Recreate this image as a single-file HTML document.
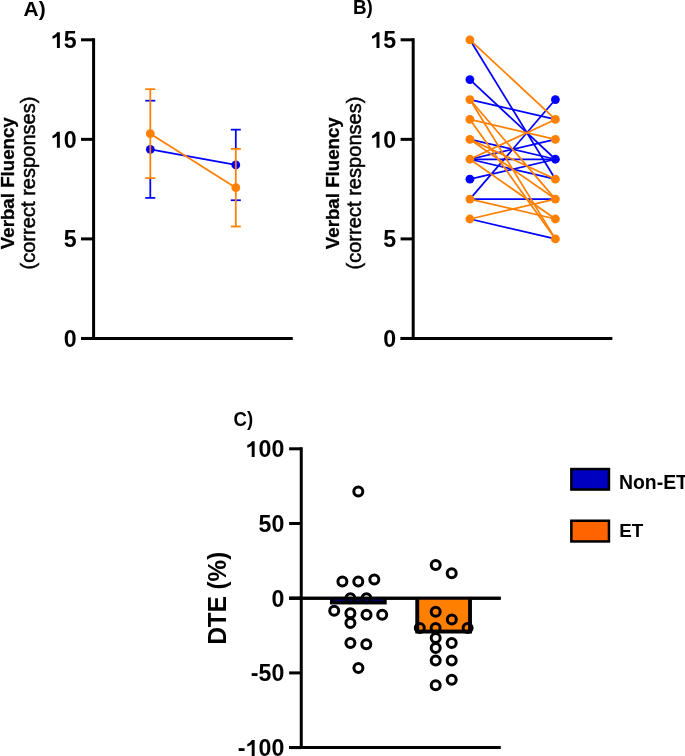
<!DOCTYPE html>
<html><head><meta charset="utf-8"><style>
html,body{margin:0;padding:0;background:#fff;}
svg{display:block;will-change:transform;font-family:"Liberation Sans",sans-serif;}
</style></head><body>
<svg width="685" height="756" viewBox="0 0 685 756">
<line x1="93.60" y1="38.30" x2="93.60" y2="339.95" stroke="#000" stroke-width="3" stroke-linecap="butt"/>
<line x1="81.00" y1="338.45" x2="292.80" y2="338.45" stroke="#000" stroke-width="3" stroke-linecap="butt"/>
<line x1="81.00" y1="39.80" x2="93.60" y2="39.80" stroke="#000" stroke-width="3" stroke-linecap="butt"/>
<path d="M800 0L540 0L540 1030Q380 890 150 820L150 1060Q280 1110 400 1210Q510 1310 560 1409L800 1409Z" transform="translate(50.79,48.10) scale(0.01133,-0.01133)" fill="#000"/>
<text x="63.70" y="48.10" font-size="23.2" font-weight="bold">5</text>
<line x1="81.00" y1="139.35" x2="93.60" y2="139.35" stroke="#000" stroke-width="3" stroke-linecap="butt"/>
<path d="M800 0L540 0L540 1030Q380 890 150 820L150 1060Q280 1110 400 1210Q510 1310 560 1409L800 1409Z" transform="translate(50.79,147.65) scale(0.01133,-0.01133)" fill="#000"/>
<text x="63.70" y="147.65" font-size="23.2" font-weight="bold">0</text>
<line x1="81.00" y1="238.90" x2="93.60" y2="238.90" stroke="#000" stroke-width="3" stroke-linecap="butt"/>
<text x="63.70" y="247.20" font-size="23.2" font-weight="bold">5</text>
<line x1="81.00" y1="338.45" x2="93.60" y2="338.45" stroke="#000" stroke-width="3" stroke-linecap="butt"/>
<text x="63.70" y="346.75" font-size="23.2" font-weight="bold">0</text>
<line x1="150.30" y1="149.30" x2="235.80" y2="164.95" stroke="#0000ff" stroke-width="1.75" stroke-linecap="butt"/>
<line x1="150.30" y1="197.92" x2="150.30" y2="178.13" stroke="#0000ff" stroke-width="1.75" stroke-linecap="butt"/>
<line x1="145.30" y1="197.92" x2="155.30" y2="197.92" stroke="#0000ff" stroke-width="1.75" stroke-linecap="butt"/>
<line x1="145.30" y1="100.69" x2="155.30" y2="100.69" stroke="#0000ff" stroke-width="1.75" stroke-linecap="butt"/>
<circle cx="150.30" cy="149.30" r="4.4" fill="#0000ff" stroke="none" stroke-width="0"/>
<line x1="235.80" y1="148.88" x2="235.80" y2="129.65" stroke="#0000ff" stroke-width="1.75" stroke-linecap="butt"/>
<line x1="230.80" y1="200.25" x2="240.80" y2="200.25" stroke="#0000ff" stroke-width="1.75" stroke-linecap="butt"/>
<line x1="230.80" y1="129.65" x2="240.80" y2="129.65" stroke="#0000ff" stroke-width="1.75" stroke-linecap="butt"/>
<circle cx="235.80" cy="164.95" r="4.4" fill="#0000ff" stroke="none" stroke-width="0"/>
<line x1="150.30" y1="133.66" x2="235.80" y2="187.70" stroke="#ff8000" stroke-width="1.75" stroke-linecap="butt"/>
<line x1="150.30" y1="178.13" x2="150.30" y2="89.19" stroke="#ff8000" stroke-width="1.75" stroke-linecap="butt"/>
<line x1="145.30" y1="178.13" x2="155.30" y2="178.13" stroke="#ff8000" stroke-width="1.75" stroke-linecap="butt"/>
<line x1="145.30" y1="89.19" x2="155.30" y2="89.19" stroke="#ff8000" stroke-width="1.75" stroke-linecap="butt"/>
<circle cx="150.30" cy="133.66" r="4.4" fill="#ff8000" stroke="none" stroke-width="0"/>
<line x1="235.80" y1="226.53" x2="235.80" y2="148.88" stroke="#ff8000" stroke-width="1.75" stroke-linecap="butt"/>
<line x1="230.80" y1="226.53" x2="240.80" y2="226.53" stroke="#ff8000" stroke-width="1.75" stroke-linecap="butt"/>
<line x1="230.80" y1="148.88" x2="240.80" y2="148.88" stroke="#ff8000" stroke-width="1.75" stroke-linecap="butt"/>
<circle cx="235.80" cy="187.70" r="4.4" fill="#ff8000" stroke="none" stroke-width="0"/>
<line x1="413.20" y1="38.30" x2="413.20" y2="339.95" stroke="#000" stroke-width="3" stroke-linecap="butt"/>
<line x1="400.60" y1="338.45" x2="612.40" y2="338.45" stroke="#000" stroke-width="3" stroke-linecap="butt"/>
<line x1="400.60" y1="39.80" x2="413.20" y2="39.80" stroke="#000" stroke-width="3" stroke-linecap="butt"/>
<path d="M800 0L540 0L540 1030Q380 890 150 820L150 1060Q280 1110 400 1210Q510 1310 560 1409L800 1409Z" transform="translate(370.39,48.10) scale(0.01133,-0.01133)" fill="#000"/>
<text x="383.30" y="48.10" font-size="23.2" font-weight="bold">5</text>
<line x1="400.60" y1="139.35" x2="413.20" y2="139.35" stroke="#000" stroke-width="3" stroke-linecap="butt"/>
<path d="M800 0L540 0L540 1030Q380 890 150 820L150 1060Q280 1110 400 1210Q510 1310 560 1409L800 1409Z" transform="translate(370.39,147.65) scale(0.01133,-0.01133)" fill="#000"/>
<text x="383.30" y="147.65" font-size="23.2" font-weight="bold">0</text>
<line x1="400.60" y1="238.90" x2="413.20" y2="238.90" stroke="#000" stroke-width="3" stroke-linecap="butt"/>
<text x="383.30" y="247.20" font-size="23.2" font-weight="bold">5</text>
<line x1="400.60" y1="338.45" x2="413.20" y2="338.45" stroke="#000" stroke-width="3" stroke-linecap="butt"/>
<text x="383.30" y="346.75" font-size="23.2" font-weight="bold">0</text>
<line x1="469.90" y1="39.80" x2="555.40" y2="179.17" stroke="#0000ff" stroke-width="1.75" stroke-linecap="butt"/>
<line x1="469.90" y1="79.62" x2="555.40" y2="159.26" stroke="#0000ff" stroke-width="1.75" stroke-linecap="butt"/>
<line x1="469.90" y1="199.08" x2="555.40" y2="99.53" stroke="#0000ff" stroke-width="1.75" stroke-linecap="butt"/>
<line x1="469.90" y1="99.53" x2="555.40" y2="119.44" stroke="#0000ff" stroke-width="1.75" stroke-linecap="butt"/>
<line x1="469.90" y1="218.99" x2="555.40" y2="238.90" stroke="#0000ff" stroke-width="1.75" stroke-linecap="butt"/>
<line x1="469.90" y1="159.26" x2="555.40" y2="179.17" stroke="#0000ff" stroke-width="1.75" stroke-linecap="butt"/>
<line x1="469.90" y1="139.35" x2="555.40" y2="159.26" stroke="#0000ff" stroke-width="1.75" stroke-linecap="butt"/>
<line x1="469.90" y1="159.26" x2="555.40" y2="159.26" stroke="#0000ff" stroke-width="1.75" stroke-linecap="butt"/>
<line x1="469.90" y1="199.08" x2="555.40" y2="199.08" stroke="#0000ff" stroke-width="1.75" stroke-linecap="butt"/>
<line x1="469.90" y1="159.26" x2="555.40" y2="139.35" stroke="#0000ff" stroke-width="1.75" stroke-linecap="butt"/>
<line x1="469.90" y1="179.17" x2="555.40" y2="159.26" stroke="#0000ff" stroke-width="1.75" stroke-linecap="butt"/>
<circle cx="469.90" cy="179.17" r="4.4" fill="#0000ff" stroke="none" stroke-width="0"/>
<circle cx="469.90" cy="79.62" r="4.4" fill="#0000ff" stroke="none" stroke-width="0"/>
<circle cx="555.40" cy="159.26" r="4.4" fill="#0000ff" stroke="none" stroke-width="0"/>
<circle cx="555.40" cy="99.53" r="4.4" fill="#0000ff" stroke="none" stroke-width="0"/>
<line x1="469.90" y1="159.26" x2="555.40" y2="119.44" stroke="#ff8000" stroke-width="1.75" stroke-linecap="butt"/>
<line x1="469.90" y1="218.99" x2="555.40" y2="199.08" stroke="#ff8000" stroke-width="1.75" stroke-linecap="butt"/>
<line x1="469.90" y1="119.44" x2="555.40" y2="139.35" stroke="#ff8000" stroke-width="1.75" stroke-linecap="butt"/>
<line x1="469.90" y1="199.08" x2="555.40" y2="218.99" stroke="#ff8000" stroke-width="1.75" stroke-linecap="butt"/>
<line x1="469.90" y1="139.35" x2="555.40" y2="179.17" stroke="#ff8000" stroke-width="1.75" stroke-linecap="butt"/>
<line x1="469.90" y1="39.80" x2="555.40" y2="119.44" stroke="#ff8000" stroke-width="1.75" stroke-linecap="butt"/>
<line x1="469.90" y1="139.35" x2="555.40" y2="199.08" stroke="#ff8000" stroke-width="1.75" stroke-linecap="butt"/>
<line x1="469.90" y1="159.26" x2="555.40" y2="218.99" stroke="#ff8000" stroke-width="1.75" stroke-linecap="butt"/>
<line x1="469.90" y1="99.53" x2="555.40" y2="199.08" stroke="#ff8000" stroke-width="1.75" stroke-linecap="butt"/>
<line x1="469.90" y1="119.44" x2="555.40" y2="238.90" stroke="#ff8000" stroke-width="1.75" stroke-linecap="butt"/>
<line x1="469.90" y1="99.53" x2="555.40" y2="238.90" stroke="#ff8000" stroke-width="1.75" stroke-linecap="butt"/>
<circle cx="469.90" cy="218.99" r="4.4" fill="#ff8000" stroke="none" stroke-width="0"/>
<circle cx="469.90" cy="199.08" r="4.4" fill="#ff8000" stroke="none" stroke-width="0"/>
<circle cx="469.90" cy="159.26" r="4.4" fill="#ff8000" stroke="none" stroke-width="0"/>
<circle cx="469.90" cy="139.35" r="4.4" fill="#ff8000" stroke="none" stroke-width="0"/>
<circle cx="469.90" cy="119.44" r="4.4" fill="#ff8000" stroke="none" stroke-width="0"/>
<circle cx="469.90" cy="99.53" r="4.4" fill="#ff8000" stroke="none" stroke-width="0"/>
<circle cx="469.90" cy="39.80" r="4.4" fill="#ff8000" stroke="none" stroke-width="0"/>
<circle cx="555.40" cy="238.90" r="4.4" fill="#ff8000" stroke="none" stroke-width="0"/>
<circle cx="555.40" cy="218.99" r="4.4" fill="#ff8000" stroke="none" stroke-width="0"/>
<circle cx="555.40" cy="199.08" r="4.4" fill="#ff8000" stroke="none" stroke-width="0"/>
<circle cx="555.40" cy="179.17" r="4.4" fill="#ff8000" stroke="none" stroke-width="0"/>
<circle cx="555.40" cy="139.35" r="4.4" fill="#ff8000" stroke="none" stroke-width="0"/>
<circle cx="555.40" cy="119.44" r="4.4" fill="#ff8000" stroke="none" stroke-width="0"/>
<line x1="301.25" y1="447.30" x2="301.25" y2="749.10" stroke="#000" stroke-width="3" stroke-linecap="butt"/>
<line x1="289.10" y1="598.20" x2="500.70" y2="598.20" stroke="#000" stroke-width="3" stroke-linecap="butt"/>
<line x1="289.10" y1="747.60" x2="500.80" y2="747.60" stroke="#000" stroke-width="3" stroke-linecap="butt"/>
<line x1="289.10" y1="448.80" x2="301.25" y2="448.80" stroke="#000" stroke-width="3" stroke-linecap="butt"/>
<path d="M800 0L540 0L540 1030Q380 890 150 820L150 1060Q280 1110 400 1210Q510 1310 560 1409L800 1409Z" transform="translate(245.59,457.10) scale(0.01133,-0.01133)" fill="#000"/>
<text x="258.49" y="457.10" font-size="23.2" font-weight="bold">0</text>
<text x="271.40" y="457.10" font-size="23.2" font-weight="bold">0</text>
<line x1="289.10" y1="523.50" x2="301.25" y2="523.50" stroke="#000" stroke-width="3" stroke-linecap="butt"/>
<text x="258.49" y="531.80" font-size="23.2" font-weight="bold">5</text>
<text x="271.40" y="531.80" font-size="23.2" font-weight="bold">0</text>
<line x1="289.10" y1="598.20" x2="301.25" y2="598.20" stroke="#000" stroke-width="3" stroke-linecap="butt"/>
<text x="271.40" y="606.50" font-size="23.2" font-weight="bold">0</text>
<line x1="289.10" y1="672.90" x2="301.25" y2="672.90" stroke="#000" stroke-width="3" stroke-linecap="butt"/>
<text x="250.77" y="681.20" font-size="23.2" font-weight="bold">-</text>
<text x="258.49" y="681.20" font-size="23.2" font-weight="bold">5</text>
<text x="271.40" y="681.20" font-size="23.2" font-weight="bold">0</text>
<line x1="289.10" y1="747.60" x2="301.25" y2="747.60" stroke="#000" stroke-width="3" stroke-linecap="butt"/>
<text x="237.87" y="755.90" font-size="23.2" font-weight="bold">-</text>
<path d="M800 0L540 0L540 1030Q380 890 150 820L150 1060Q280 1110 400 1210Q510 1310 560 1409L800 1409Z" transform="translate(245.59,755.90) scale(0.01133,-0.01133)" fill="#000"/>
<text x="258.49" y="755.90" font-size="23.2" font-weight="bold">0</text>
<text x="271.40" y="755.90" font-size="23.2" font-weight="bold">0</text>
<rect x="330.00" y="598.20" width="56.70" height="6.24" fill="#000"/>
<rect x="333.90" y="598.20" width="48.90" height="2.34" fill="#0000c0"/>
<rect x="415.30" y="598.20" width="56.65" height="35.29" fill="#000"/>
<rect x="419.20" y="598.20" width="48.85" height="31.39" fill="#ff8000"/>
<line x1="289.10" y1="598.20" x2="500.70" y2="598.20" stroke="#000" stroke-width="3" stroke-linecap="butt"/>
<circle cx="358.30" cy="491.48" r="4.5" fill="none" stroke="#000" stroke-width="3.0"/>
<circle cx="374.30" cy="579.53" r="4.5" fill="none" stroke="#000" stroke-width="3.0"/>
<circle cx="342.40" cy="581.60" r="4.5" fill="none" stroke="#000" stroke-width="3.0"/>
<circle cx="358.30" cy="581.60" r="4.5" fill="none" stroke="#000" stroke-width="3.0"/>
<circle cx="350.40" cy="598.20" r="4.5" fill="none" stroke="#000" stroke-width="3.0"/>
<circle cx="366.50" cy="598.20" r="4.5" fill="none" stroke="#000" stroke-width="3.0"/>
<circle cx="334.20" cy="610.65" r="4.5" fill="none" stroke="#000" stroke-width="3.0"/>
<circle cx="350.40" cy="613.14" r="4.5" fill="none" stroke="#000" stroke-width="3.0"/>
<circle cx="366.50" cy="614.80" r="4.5" fill="none" stroke="#000" stroke-width="3.0"/>
<circle cx="382.20" cy="614.80" r="4.5" fill="none" stroke="#000" stroke-width="3.0"/>
<circle cx="350.40" cy="623.10" r="4.5" fill="none" stroke="#000" stroke-width="3.0"/>
<circle cx="350.40" cy="643.02" r="4.5" fill="none" stroke="#000" stroke-width="3.0"/>
<circle cx="366.30" cy="644.17" r="4.5" fill="none" stroke="#000" stroke-width="3.0"/>
<circle cx="358.40" cy="667.92" r="4.5" fill="none" stroke="#000" stroke-width="3.0"/>
<circle cx="435.70" cy="565.00" r="4.5" fill="none" stroke="#000" stroke-width="3.0"/>
<circle cx="451.70" cy="573.30" r="4.5" fill="none" stroke="#000" stroke-width="3.0"/>
<circle cx="435.70" cy="611.78" r="4.5" fill="none" stroke="#000" stroke-width="3.0"/>
<circle cx="451.80" cy="619.55" r="4.5" fill="none" stroke="#000" stroke-width="3.0"/>
<circle cx="419.80" cy="628.08" r="4.5" fill="none" stroke="#000" stroke-width="3.0"/>
<circle cx="435.60" cy="628.08" r="4.5" fill="none" stroke="#000" stroke-width="3.0"/>
<circle cx="467.60" cy="628.08" r="4.5" fill="none" stroke="#000" stroke-width="3.0"/>
<circle cx="435.70" cy="638.04" r="4.5" fill="none" stroke="#000" stroke-width="3.0"/>
<circle cx="451.70" cy="643.02" r="4.5" fill="none" stroke="#000" stroke-width="3.0"/>
<circle cx="435.70" cy="648.00" r="4.5" fill="none" stroke="#000" stroke-width="3.0"/>
<circle cx="435.70" cy="660.45" r="4.5" fill="none" stroke="#000" stroke-width="3.0"/>
<circle cx="451.70" cy="660.45" r="4.5" fill="none" stroke="#000" stroke-width="3.0"/>
<circle cx="451.70" cy="679.70" r="4.5" fill="none" stroke="#000" stroke-width="3.0"/>
<circle cx="435.70" cy="685.35" r="4.5" fill="none" stroke="#000" stroke-width="3.0"/>
<rect x="571.35" y="469.05" width="37.6" height="20.5" fill="#0000c0" stroke="#000" stroke-width="2.5"/>
<rect x="571.35" y="520.75" width="37.6" height="20.7" fill="#ff6400" stroke="#000" stroke-width="2.5"/>
<text x="619.00" y="488.70" font-size="19.4" text-anchor="start" font-weight="bold" >Non-ET</text>
<text x="619.20" y="537.10" font-size="18.8" text-anchor="start" font-weight="bold" >ET</text>
<text transform="translate(23.6,15.6) scale(1.03,1)" font-size="20.3" font-weight="bold">A)</text>
<text transform="translate(352.9,13.8) scale(0.93,1)" font-size="20.3" font-weight="bold">B)</text>
<text transform="translate(233.6,426.2) scale(0.90,1)" font-size="20.6" font-weight="bold">C)</text>
<text transform="translate(13.70,183.2) rotate(-90)" font-size="18.7" font-weight="bold" text-anchor="middle" stroke="#000" stroke-width="0.3">Verbal Fluency</text>
<text transform="translate(35.20,183.0) rotate(-90)" font-size="20.1" text-anchor="middle" stroke="#000" stroke-width="0.5">(correct responses)</text>
<text transform="translate(339.10,183.2) rotate(-90)" font-size="18.7" font-weight="bold" text-anchor="middle" stroke="#000" stroke-width="0.3">Verbal Fluency</text>
<text transform="translate(360.60,183.0) rotate(-90)" font-size="20.1" text-anchor="middle" stroke="#000" stroke-width="0.5">(correct responses)</text>
<text transform="translate(226.0,598.2) rotate(-90) scale(0.985,1.02)" font-size="24.6" font-weight="bold" text-anchor="middle">DTE (%)</text>
</svg>
</body></html>
